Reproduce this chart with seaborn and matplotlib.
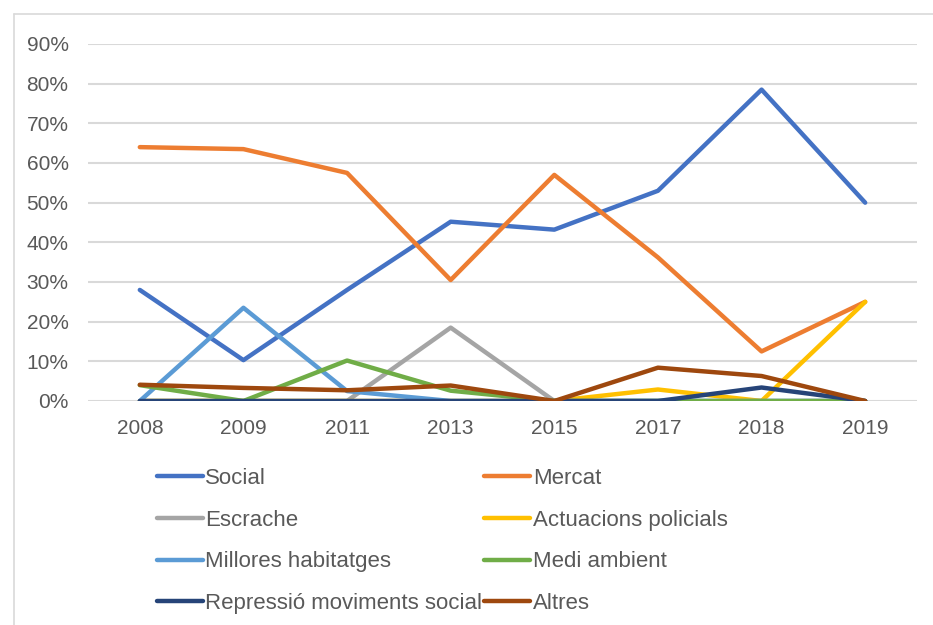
import matplotlib
matplotlib.use("Agg")
import matplotlib.pyplot as plt
import seaborn as sns
import pandas as pd
from matplotlib.lines import Line2D

years = ["2008", "2009", "2011", "2013", "2015", "2017", "2018", "2019"]
social = [28, 10.3, 28, 45.2, 43.2, 53, 78.5, 50]
mercat = [64, 63.5, 57.5, 30.5, 57, 36.2, 12.5, 25]
escrache = [0, 0, 0, 18.5, 0, 0, 0, 0]
actuacions = [0, 0, 0, 0, 0, 2.9, 0, 25]
millores = [0, 23.5, 2.5, 0, 0, 0, 0, 0]
medi = [4, 0, 10.2, 2.6, 0, 0, 0, 0]
repressio = [0, 0, 0, 0, 0, 0, 3.4, 0]
altres = [4.1, 3.3, 2.7, 3.9, 0, 8.4, 6.3, 0]

names = ["Social", "Mercat", "Escrache", "Actuacions policials",
         "Millores habitatges", "Medi ambient",
         "Repressió moviments social", "Altres"]
series = [social, mercat, escrache, actuacions, millores, medi, repressio, altres]
colors = ["#4472C4", "#ED7D31", "#A5A5A5", "#FFC000",
          "#5B9BD5", "#70AD47", "#264478", "#9E480E"]

rows = []
for n, s in zip(names, series):
    for i, v in enumerate(s):
        rows.append({"pos": i, "value": v, "serie": n})
df = pd.DataFrame(rows)

sns.set_theme(style="white")
plt.rcParams["font.family"] = ["Liberation Sans", "DejaVu Sans"]

fig = plt.figure(figsize=(9.33, 6.25), dpi=100)
ax = fig.add_axes([88/933, 1-401/625, (917-88)/933, (401-44)/625])

sns.lineplot(data=df, x="pos", y="value", hue="serie", hue_order=names,
             palette=dict(zip(names, colors)), linewidth=3.2, ax=ax,
             legend=False, sort=False)

ax.set_xlim(-0.5, 7.5)
ax.set_ylim(0, 90)
ax.set_yticks(range(0, 91, 10))
ax.set_yticklabels([f"{v}%" for v in range(0, 91, 10)], fontsize=15, color="#595959")
ax.set_xticks(range(len(years)))
ax.set_xticklabels(years, fontsize=15, color="#595959")
ax.tick_params(axis="y", length=0, pad=14)
ax.tick_params(axis="x", length=0, pad=13)
ax.set_xlabel("")
ax.set_ylabel("")
for sp in ax.spines.values():
    sp.set_visible(False)
ax.yaxis.grid(True, color="#d9d9d9", linewidth=1.5)
ax.set_axisbelow(True)

# outer frame
fig.add_artist(Line2D([14/933, 14/933], [0, 1-14/625], color="#d9d9d9", linewidth=1.2))
fig.add_artist(Line2D([14/933, 1], [1-14/625, 1-14/625], color="#d9d9d9", linewidth=1.2))

# legend filled row by row (two columns)
order = [0, 2, 4, 6, 1, 3, 5, 7]
handles = [Line2D([], [], color=colors[i], linewidth=3.2, solid_capstyle="round") for i in order]
labels = [names[i] for i in order]
fig.legend(handles, labels, ncol=2, loc="upper left",
           bbox_to_anchor=(157/933, 1-468/625), frameon=False,
           fontsize=16, handlelength=2.07, handletextpad=0.1,
           columnspacing=0.1, labelspacing=0.93, labelcolor="#595959",
           borderaxespad=0, borderpad=0)

fig.savefig("out.png", dpi=100)
